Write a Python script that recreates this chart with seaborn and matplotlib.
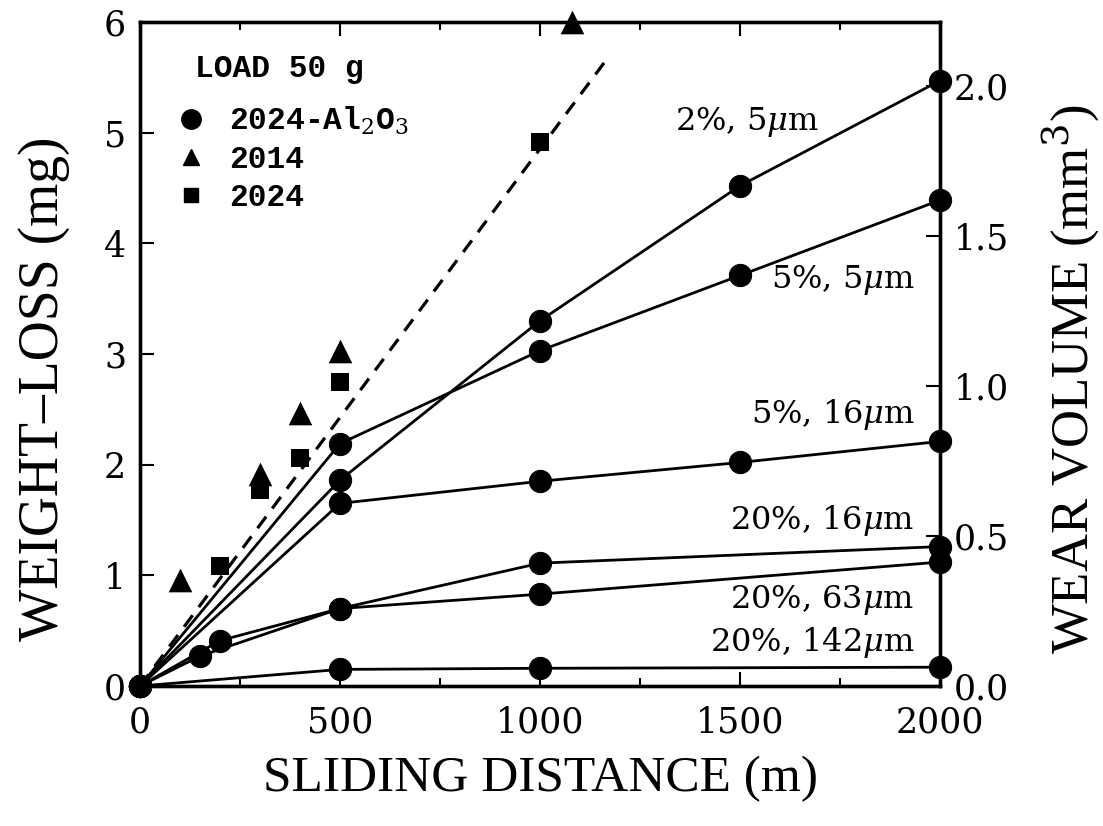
import numpy as np
import pandas as pd
import matplotlib
matplotlib.use("Agg")
import matplotlib.pyplot as plt
from matplotlib.lines import Line2D
import seaborn as sns

# ---------------- data ----------------
dist_2pct_5um = [0, 500, 1000, 1500, 2000]
wl_2pct_5um = [0, 1.86, 3.30, 4.52, 5.47]

dist_5pct_5um = [0, 500, 1000, 1500, 2000]
wl_5pct_5um = [0, 2.19, 3.03, 3.71, 4.39]

dist_5pct_16um = [0, 500, 1000, 1500, 2000]
wl_5pct_16um = [0, 1.65, 1.85, 2.02, 2.21]

dist_20pct_16um = [0, 150, 500, 1000, 2000]
wl_20pct_16um = [0, 0.27, 0.70, 1.11, 1.26]

dist_20pct_63um = [0, 200, 500, 1000, 2000]
wl_20pct_63um = [0, 0.41, 0.70, 0.83, 1.12]

dist_20pct_142um = [0, 500, 1000, 2000]
wl_20pct_142um = [0, 0.15, 0.16, 0.17]

dist_2014 = [100, 300, 400, 500, 1080]
wl_2014 = [0.96, 1.92, 2.47, 3.03, 6.0]

dist_2024 = [200, 300, 400, 500, 1000]
wl_2024 = [1.08, 1.77, 2.06, 2.75, 4.92]

dist_fit = [0, 1160]
wl_fit = [0, 5.63]

series_labels = ["2%, 5$\\mu$m", "5%, 5$\\mu$m", "5%, 16$\\mu$m",
                 "20%, 16$\\mu$m", "20%, 63$\\mu$m", "20%, 142$\\mu$m"]
label_x = [1517, 1937, 1937, 1937, 1937, 1937]
label_y = [5.1, 3.67, 2.45, 1.50, 0.78, 0.39]

x_ticks = [0, 500, 1000, 1500, 2000]
y_ticks = [0, 1, 2, 3, 4, 5, 6]
vol_ticks = [0.0, 0.5, 1.0, 1.5, 2.0]
density = 2.71  # mg per mm^3

legend_title = "LOAD 50 g"
legend_labels = ["2024-Al$_2$O$_3$", "2014", "2024"]

# ---------------- style ----------------
sns.set_theme(style="ticks")
plt.rcParams["font.family"] = ["DejaVu Serif"]
plt.rcParams["mathtext.fontset"] = "custom"
plt.rcParams["mathtext.rm"] = "DejaVu Serif"
plt.rcParams["mathtext.it"] = "DejaVu Serif:italic"
plt.rcParams["text.color"] = "black"
plt.rcParams["axes.labelcolor"] = "black"

fig = plt.figure(figsize=(11.03, 8.26), dpi=100)
ax = fig.add_axes([140 / 1103, 1 - 686 / 826, 800 / 1103, 664 / 826])

frames = []
for name, xs, ys in [("a", dist_2pct_5um, wl_2pct_5um),
                     ("b", dist_5pct_5um, wl_5pct_5um),
                     ("c", dist_5pct_16um, wl_5pct_16um),
                     ("d", dist_20pct_16um, wl_20pct_16um),
                     ("e", dist_20pct_63um, wl_20pct_63um),
                     ("f", dist_20pct_142um, wl_20pct_142um)]:
    frames.append(pd.DataFrame({"dist": xs, "wl": ys, "series": name}))
df = pd.concat(frames, ignore_index=True)

sns.lineplot(data=df, x="dist", y="wl", units="series", estimator=None,
             sort=False, color="black", lw=2.0, marker="o", markersize=16,
             markeredgecolor="black", legend=False, ax=ax, clip_on=False, zorder=3)

sns.lineplot(x=dist_fit, y=wl_fit, color="black", lw=2.3,
             linestyle=(0, (4.5, 3.2)), ax=ax, legend=False)

sns.scatterplot(x=dist_2014, y=wl_2014, marker="^", s=290, color="black",
                edgecolor="black", linewidth=0, ax=ax, clip_on=False, zorder=4)
sns.scatterplot(x=dist_2024, y=wl_2024, marker="s", s=150, color="black",
                edgecolor="black", linewidth=0, ax=ax, clip_on=False, zorder=4)

ax.set_xlim(0, 2000)
ax.set_ylim(0, 6)
ax.set_xticks(x_ticks)
ax.set_xticks(np.arange(0, 2001, 250), minor=True)
ax.set_yticks(y_ticks)
ax.tick_params(axis="both", which="both", direction="in", top=True, right=False,
               width=1.5, colors="black", labelsize=25)
ax.tick_params(axis="both", which="major", length=10)
ax.tick_params(axis="both", which="minor", length=6)
ax.tick_params(axis="x", pad=14)
ax.tick_params(axis="y", pad=10)
for s in ax.spines.values():
    s.set_linewidth(2.4)
    s.set_color("black")

ax2 = ax.twinx()
ax2.set_ylim(0, 6 / density)
ax2.set_yticks(vol_ticks)
ax2.set_yticklabels([f"{v:.1f}" for v in vol_ticks])
ax2.tick_params(axis="y", direction="in", length=10, width=1.5, labelsize=25,
                pad=10, colors="black")
for s in ax2.spines.values():
    s.set_linewidth(2.4)
    s.set_color("black")

ax.set_xlabel("SLIDING DISTANCE (m)", labelpad=12, family="Liberation Serif",
              fontsize=37, color="black")
ax.set_ylabel("WEIGHT\u2013LOSS (mg)", family="Liberation Serif",
              fontsize=40, color="black")
ax.yaxis.set_label_coords(-0.088, 0.447)
ax2.set_ylabel("WEAR VOLUME (mm$^3$)", family="Liberation Serif",
               fontsize=38, color="black")
ax2.yaxis.set_label_coords(1.126, 0.462)

for t, lx, ly in zip(series_labels, label_x, label_y):
    ha = "center" if lx < 1800 else "right"
    ax.text(lx, ly, t, fontsize=23, ha=ha, va="center", color="black")

mono = dict(family="Liberation Mono", weight="bold", size=22.5)
ax.text(0.069, 0.929, legend_title, transform=ax.transAxes, ha="left",
        va="center", color="black", **mono)

handles = [Line2D([], [], marker=m, color="black", linestyle="none", markersize=ms)
           for m, ms in [("o", 14), ("^", 12), ("s", 9.5)]]
leg = ax.legend(handles, legend_labels, loc="upper left",
                bbox_to_anchor=(0.027, 0.908), frameon=False, borderpad=0.2,
                prop=mono, handlelength=0.45, handletextpad=1.0,
                labelspacing=0.26)
for t in leg.get_texts():
    t.set_color("black")

fig.savefig("out.png", dpi=100)
